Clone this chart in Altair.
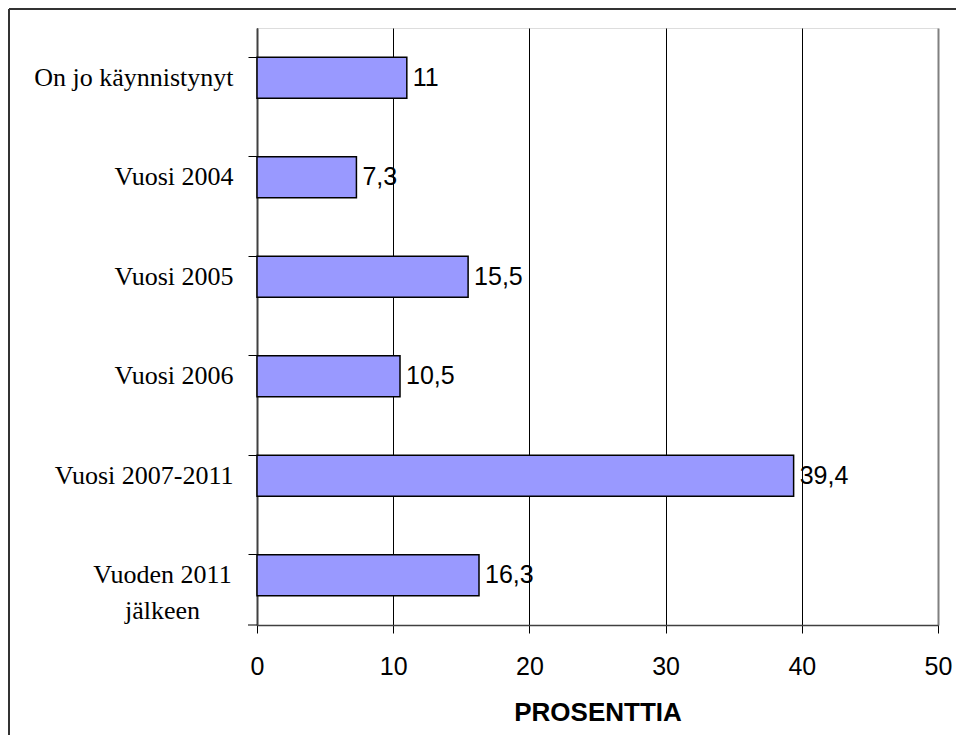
import altair as alt
import pandas as pd

categories = ["On jo käynnistynyt", "Vuosi 2004", "Vuosi 2005", "Vuosi 2006",
              "Vuosi 2007-2011", "Vuoden 2011 jälkeen"]
values = [11, 7.3, 15.5, 10.5, 39.4, 16.3]
x_ticks = [0, 10, 20, 30, 40, 50]
x_title = "PROSENTTIA"

df = pd.DataFrame({"cat": categories, "value": values})

W, H = 681, 597
MULTI = "Vuoden 2011 jälkeen"

y_enc = alt.Y(
    "cat:N", sort=categories, title=None,
    scale=alt.Scale(paddingInner=0.59, paddingOuter=0.295),
    axis=alt.Axis(
        bandPosition=0, tickSize=9, tickColor="black", tickWidth=1,
        domainColor="#404040", domainWidth=2,
        labelFont="Liberation Serif", labelFontSize=26, labelColor="black",
        labelLimit=400, labelOverlap=False, labelLineHeight=36,
        labelPadding=alt.condition(f"datum.value == '{MULTI}'", alt.value(86), alt.value(15)),
        labelAlign=alt.condition(f"datum.value == '{MULTI}'", alt.value("center"), alt.value("right")),
        labelExpr=f"datum.value == '{MULTI}' ? ['Vuoden 2011', 'jälkeen'] : datum.label",
    ),
)

x_enc = alt.X(
    "value:Q", title=x_title,
    scale=alt.Scale(domain=[0, 50], nice=False),
    axis=alt.Axis(
        values=x_ticks, tickSize=8, tickColor="black", tickWidth=1,
        grid=True,
        gridColor=alt.condition("datum.value == 50", alt.value("#808080"), alt.value("black")),
        gridWidth=alt.condition("datum.value == 50", alt.value(2), alt.value(1)),
        domainColor="#404040", domainWidth=1.5,
        labelFont="Liberation Sans", labelFontSize=25, labelColor="black",
        labelBaseline="alphabetic", labelPadding=41, labelFlush=False,
        titleFont="Liberation Sans", titleFontSize=26, titleFontWeight="bold",
        titleColor="black", titleBaseline="alphabetic", titleY=95,
    ),
)

base = alt.Chart(df)

bars = base.mark_bar(color="#9999FF", stroke="black", strokeWidth=1.5).encode(
    x=x_enc, y=y_enc
)

text = base.transform_calculate(
    lbl="replace(toString(datum.value), '.', ',')"
).mark_text(
    align="left", baseline="middle", dx=6,
    font="Liberation Sans", fontSize=25, color="black"
).encode(x="value:Q", y=alt.Y("cat:N", sort=categories), text="lbl:N")

one = alt.Chart(pd.DataFrame({"a": [0]}))

bottom_tick = one.mark_rule(color="black", strokeWidth=1).encode(
    x=alt.value(-9), x2=alt.value(0), y=alt.value(H)
)
border_top = one.mark_rule(color="#333333", strokeWidth=2).encode(
    x=alt.value(-248), x2=alt.value(760), y=alt.value(-19)
)
border_left = one.mark_rule(color="#333333", strokeWidth=2).encode(
    x=alt.value(-248), y=alt.value(-19), y2=alt.value(760)
)

chart = alt.layer(bars, text, bottom_tick, border_top, border_left).properties(
    width=W, height=H,
    autosize=alt.AutoSizeParams(type="none"),
    padding={"left": 249, "top": 20, "right": 18, "bottom": 110},
).configure_view(stroke="#808080", strokeWidth=2).configure(background="white")

chart.save("out.html", embed_options={"renderer": "svg", "actions": False})
